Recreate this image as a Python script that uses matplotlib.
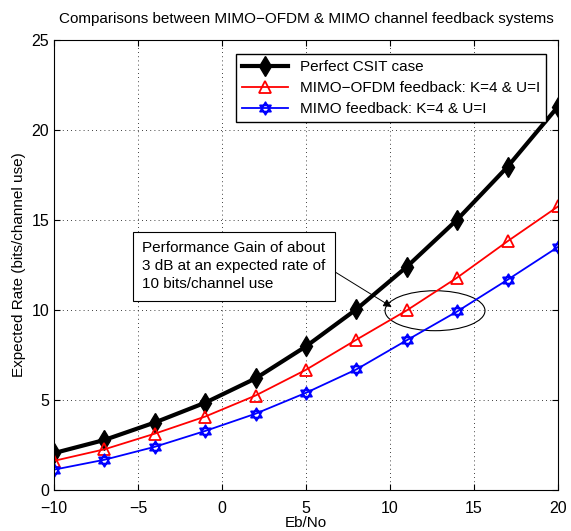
import matplotlib
matplotlib.use('Agg')
import matplotlib.pyplot as plt
from matplotlib.path import Path
from matplotlib.patches import Ellipse
import numpy as np

plt.rcParams['font.family'] = ['Liberation Sans', 'DejaVu Sans']

ebno = [-10, -7, -4, -1, 2, 5, 8, 11, 14, 17, 20]
perfect = [2.05, 2.78, 3.75, 4.85, 6.2, 7.98, 10.04, 12.4, 15.02, 17.96, 21.3]
ofdm_fb = [1.62, 2.26, 3.13, 4.08, 5.25, 6.68, 8.35, 9.98, 11.8, 13.82, 15.75]
mimo_fb = [1.13, 1.68, 2.4, 3.28, 4.24, 5.4, 6.7, 8.32, 9.92, 11.68, 13.5]

labels = ['Perfect CSIT case',
          'MIMO\u2212OFDM feedback: K=4 & U=I',
          'MIMO feedback: K=4 & U=I']

# hexagram marker: two overlapping triangles
a = np.deg2rad([90, 210, 330, 90])
b = np.deg2rad([270, 30, 150, 270])
verts = list(zip(np.cos(a), np.sin(a))) + list(zip(np.cos(b), np.sin(b)))
codes = [Path.MOVETO, Path.LINETO, Path.LINETO, Path.CLOSEPOLY] * 2
hexagram = Path(verts, codes)

fig = plt.figure(figsize=(5.71, 5.31), dpi=100)
ax = fig.add_axes([0.0946, 0.0772, 0.8826, 0.8475])

ax.plot(ebno, perfect, color='black', lw=3, marker='d', ms=10.5,
        mfc='black', mec='black', label=labels[0])
ax.plot(ebno, ofdm_fb, color='red', lw=1.3, marker='^', ms=9,
        mfc='none', mec='red', mew=1.3, label=labels[1])
ax.plot(ebno, mimo_fb, color='blue', lw=1.3, marker=hexagram, ms=9,
        mfc='none', mec='blue', mew=1.3, label=labels[2])

ax.set_xlim(-10, 20)
ax.set_ylim(0, 25)
ax.set_xticks([-10, -5, 0, 5, 10, 15, 20])
ax.set_yticks([0, 5, 10, 15, 20, 25])
ax.grid(True, color='black', linestyle=(0, (1, 4)), linewidth=0.6)
ax.tick_params(direction='in', top=True, right=True, labelsize=11.5, length=4)
ax.tick_params(axis='x', pad=8)
for s in ax.spines.values():
    s.set_linewidth(0.8)

ax.set_xlabel('Eb/No', fontsize=11, labelpad=0)
ax.set_ylabel('Expected Rate (bits/channel use)', fontsize=11)
ax.set_title('Comparisons between MIMO\u2212OFDM & MIMO channel feedback systems',
             fontsize=11, pad=12)

leg = ax.legend(loc='upper right', fontsize=11, fancybox=False, framealpha=1,
                edgecolor='black', handlelength=3.0, borderpad=0.4,
                labelspacing=0.45, bbox_to_anchor=(0.992, 0.985))
leg.get_frame().set_linewidth(1.0)

ax.add_patch(Ellipse((12.68, 9.96), 5.95, 2.22, fill=False,
                     edgecolor='black', lw=0.8))
ax.annotate('Performance Gain of about\n3 dB at an expected rate of\n10 bits/channel use',
            xy=(10.1, 10.17), xytext=(-4.75, 13.85), fontsize=11,
            ha='left', va='top', linespacing=1.4,
            bbox=dict(boxstyle='square,pad=0.6', fc='white', ec='black', lw=0.8),
            arrowprops=dict(arrowstyle='-|>', color='black', lw=0.7,
                            relpos=(1.0, 0.5), shrinkA=0, shrinkB=0,
                            mutation_scale=12))

fig.savefig('out.png', dpi=100)
